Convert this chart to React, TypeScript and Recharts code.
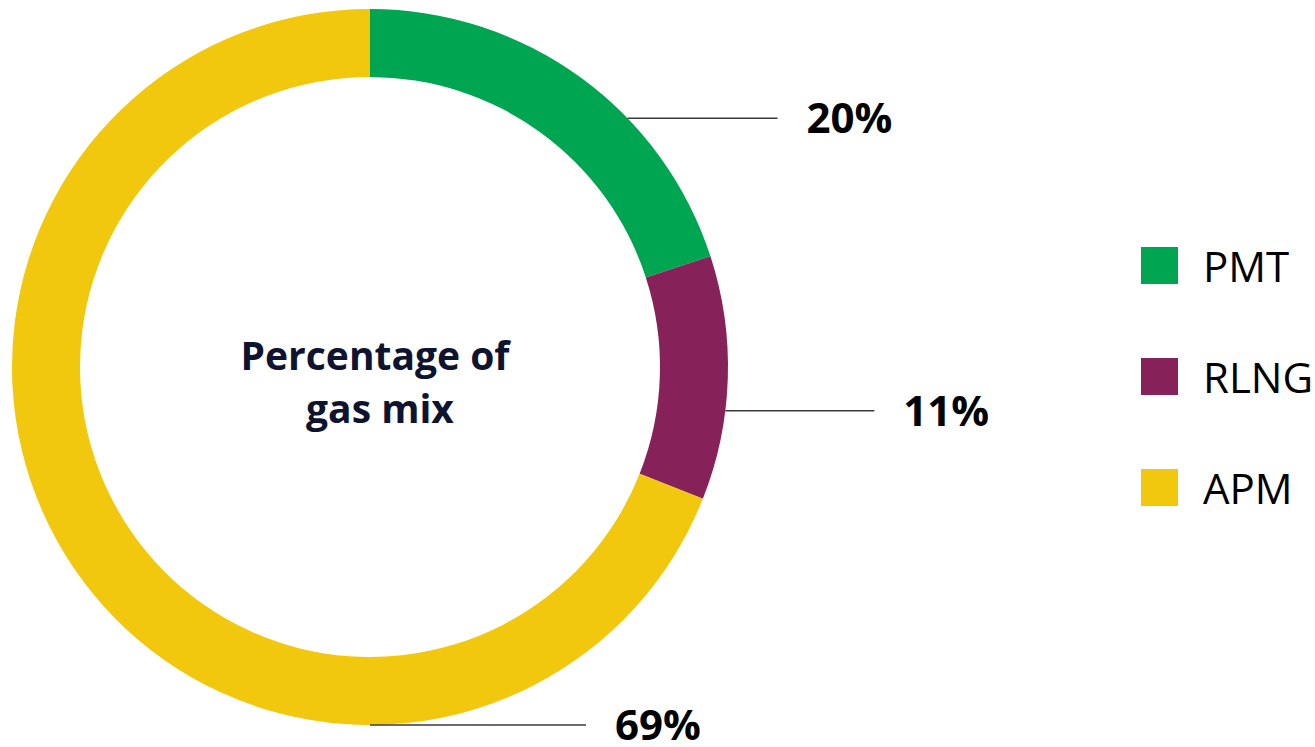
import { PieChart, Pie, Cell, Legend } from 'recharts'

const names = ['PMT', 'RLNG', 'APM']
const shares = [20, 11, 69]
const colors = ['#00A551', '#87215A', '#F2C80F']
const centerLines = ['Percentage of', 'gas mix']

// where each leader line leaves the ring (degrees clockwise from 12 o'clock) and how long it runs
const leaderAngles = [46, 97, 180]
const leaderLengths = [150, 149, 216]

const data = names.map((name, i) => ({ name, value: shares[i] }))

const FONT = '"Open Sans", sans-serif'

// the pie's own label callback knows cx/cy, so the centre caption rides along with the first label
const renderLabel = (props: any) => {
    const { cx, cy, outerRadius, index, value } = props
    const a = (leaderAngles[index] * Math.PI) / 180
    const x0 = cx + outerRadius * Math.sin(a)
    const y0 = cy - outerRadius * Math.cos(a)
    const x1 = x0 + leaderLengths[index]
    return (
        <g key={`lbl-${index}`}>
            <line x1={x0} y1={y0} x2={x1} y2={y0} stroke="#3a3a3a" strokeWidth={1.5} />
            <text
                x={x1 + 29}
                y={y0 + 15}
                fill="#000"
                fontFamily={FONT}
                fontWeight={700}
                fontSize={42}
                textAnchor="start"
            >
                {`${value}%`}
            </text>
            {index === 0 && (
                <text textAnchor="middle" fill="#0E1430" fontFamily={FONT} fontWeight={700} fontSize={39}>
                    <tspan x={cx + 5} y={cy + 3}>{centerLines[0]}</tspan>
                    <tspan x={cx + 10} y={cy + 56}>{centerLines[1]}</tspan>
                </text>
            )}
        </g>
    )
}

const renderLegend = () => (
    <div style={{ fontFamily: FONT }}>
        {names.map((n, i) => (
            <div
                key={n}
                style={{ display: 'flex', alignItems: 'center', height: 37, marginBottom: i < names.length - 1 ? 74 : 0 }}
            >
                <span style={{ width: 37, height: 37, background: colors[i], display: 'inline-block' }} />
                <span style={{ marginLeft: 25, fontSize: 42, color: '#000', lineHeight: '37px' }}>{n}</span>
            </div>
        ))}
    </div>
)

export default function App() {
    return (
        <div style={{ position: 'absolute', left: 0, top: 0, width: 1315, height: 747, background: '#fff' }}>
            <PieChart width={1315} height={747} margin={{ top: 0, right: 0, bottom: 0, left: 0 }}>
                <Pie
                    data={data}
                    dataKey="value"
                    nameKey="name"
                    cx={370}
                    cy={367}
                    innerRadius={290}
                    outerRadius={358}
                    startAngle={90}
                    endAngle={-270}
                    stroke="none"
                    label={renderLabel}
                    labelLine={false}
                    isAnimationActive={false}
                >
                    {data.map((d, i) => (
                        <Cell key={d.name} fill={colors[i]} />
                    ))}
                </Pie>
                <Legend
                    content={renderLegend}
                    layout="vertical"
                    wrapperStyle={{ left: 1141, top: 247, width: 174 }}
                />
            </PieChart>
        </div>
    )
}
